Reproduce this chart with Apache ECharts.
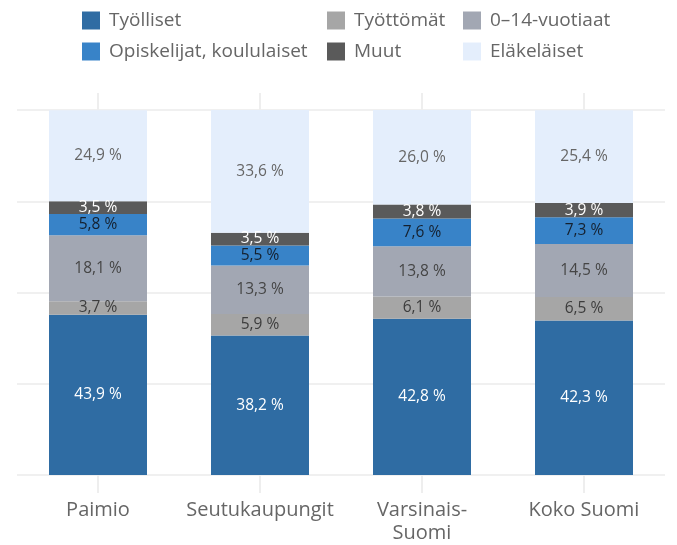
<!DOCTYPE html>
<html>
<head>
<meta charset="utf-8">
<script src="https://cdn.jsdelivr.net/npm/echarts@6/dist/echarts.min.js"></script>
<style>
  html, body { margin: 0; padding: 0; background: #fff; }
  #chart { width: 677px; height: 545px; }
</style>
</head>
<body>
<div id="chart"></div>
<script>
  var categories = ['Paimio', 'Seutukaupungit', 'Varsinais-\nSuomi', 'Koko Suomi']
  var tyolliset = [43.9, 38.2, 42.8, 42.3]
  var tyottomat = [3.7, 5.9, 6.1, 6.5]
  var lapset = [18.1, 13.3, 13.8, 14.5]
  var opiskelijat = [5.8, 5.5, 7.6, 7.3]
  var muut = [3.5, 3.5, 3.8, 3.9]
  var elakelaiset = [24.9, 33.6, 26.0, 25.4]

  var font = 'Open Sans'

  function pct(p) {
    return p.value.toFixed(1).replace('.', ',') + ' %'
  }

  function bar(name, data, color, labelColor) {
    return {
      name: name,
      type: 'bar',
      stack: 'total',
      data: data,
      barWidth: 98,
      itemStyle: { color: color },
      label: {
        show: true,
        position: 'inside',
        formatter: pct,
        color: labelColor,
        fontFamily: font,
        fontSize: 15.5
      }
    }
  }

  var legendText = { color: '#666', fontFamily: font, fontSize: 19, padding: [0, 0, 0, 4] }

  function legend(left, names) {
    return {
      orient: 'vertical', left: left, top: 6, itemWidth: 18, itemHeight: 18, itemGap: 12,
      icon: 'rect', textStyle: legendText, itemStyle: { borderWidth: 0 },
      data: names
    }
  }

  var chart = echarts.init(document.getElementById('chart'))
  chart.setOption({
    animation: false,
    legend: [
      legend(77, ['Työlliset', 'Opiskelijat, koululaiset']),
      legend(322, ['Työttömät', 'Muut']),
      legend(458, ['0–14-vuotiaat', 'Eläkeläiset'])
    ],
    grid: { left: 17, right: 12, top: 110, bottom: 68 },
    xAxis: [
      {
        type: 'category',
        data: categories,
        axisLine: { show: false },
        axisTick: { show: true, alignWithLabel: true, length: 18, lineStyle: { color: '#eeeeee', width: 2 } },
        axisLabel: { interval: 0, color: '#666', fontFamily: font, fontSize: 20, margin: 24, lineHeight: 23 }
      },
      {
        type: 'category',
        position: 'top',
        data: categories,
        axisLine: { show: false },
        axisTick: { show: true, alignWithLabel: true, length: 17, lineStyle: { color: '#eeeeee', width: 2 } },
        axisLabel: { show: false }
      }
    ],
    yAxis: {
      type: 'value',
      min: 0,
      max: 100,
      interval: 25,
      axisLabel: { show: false },
      axisLine: { show: false },
      axisTick: { show: false },
      splitLine: { lineStyle: { color: '#f0f0f0', width: 2 } }
    },
    series: [
      bar('Työlliset', tyolliset, '#2f6ca3', '#ffffff'),
      bar('Työttömät', tyottomat, '#a6a6a6', '#3d3d3d'),
      bar('0–14-vuotiaat', lapset, '#a2a7b3', '#454545'),
      bar('Opiskelijat, koululaiset', opiskelijat, '#3883c8', '#15202e'),
      bar('Muut', muut, '#5a5a5a', '#ffffff'),
      bar('Eläkeläiset', elakelaiset, '#e4eefc', '#666666')
    ]
  })
</script>
</body>
</html>
